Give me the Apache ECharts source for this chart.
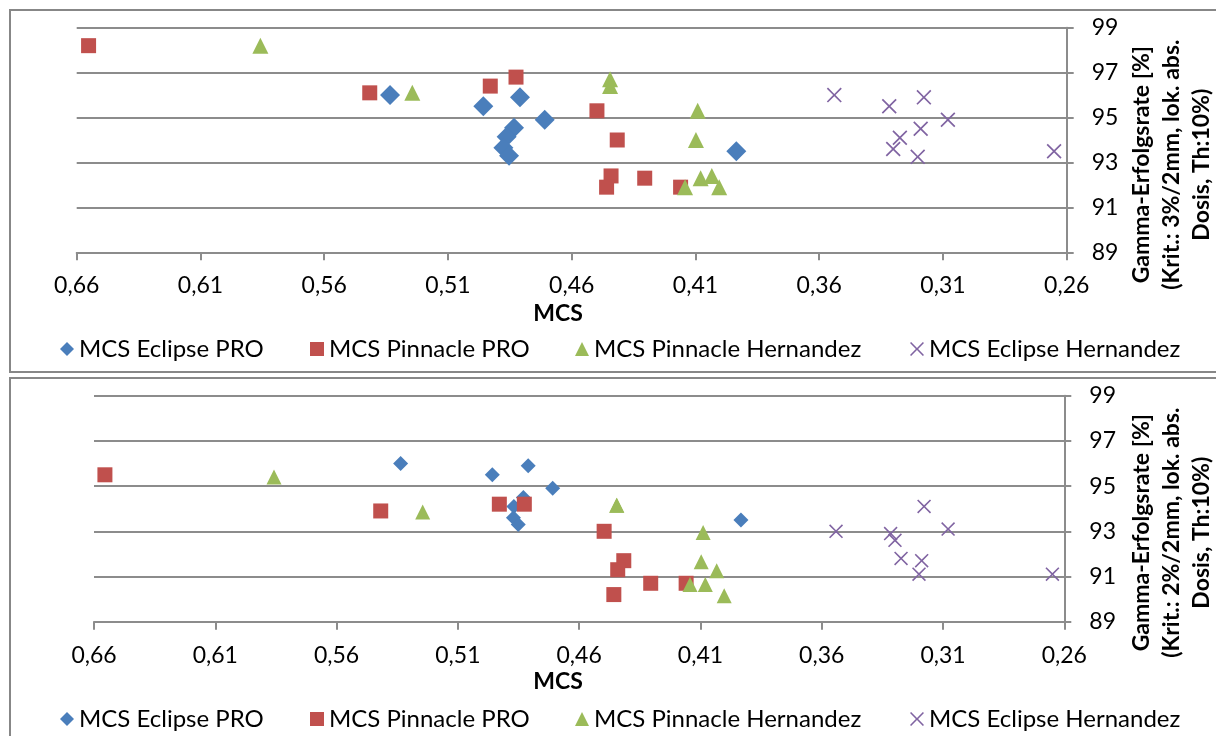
<!DOCTYPE html>
<html>
<head>
<meta charset="utf-8">
<script src="https://cdn.jsdelivr.net/npm/echarts@6/dist/echarts.min.js"></script>
<style>
  html, body { margin: 0; padding: 0; background: #fff; }
  #chart { width: 1216px; height: 736px; }
</style>
</head>
<body>
<div id="chart"></div>
<script>
// Series names, shared by both panels
const seriesNames = ['MCS Eclipse PRO', 'MCS Pinnacle PRO', 'MCS Pinnacle Hernandez', 'MCS Eclipse Hernandez'];

// Panel 1: gamma criterion 3%/2mm — [MCS, pass rate %]
const eclipsePro3 = [[0.5334, 96.0], [0.4957, 95.5], [0.4809, 95.9], [0.4709, 94.9], [0.4833, 94.55], [0.4863, 94.15], [0.4876, 93.65], [0.4853, 93.3], [0.3935, 93.5]];
const pinnaclePro3 = [[0.6552, 98.2], [0.5416, 96.1], [0.4929, 96.4], [0.4825, 96.8], [0.4498, 95.3], [0.4416, 94.0], [0.4441, 92.4], [0.4459, 91.9], [0.4305, 92.3], [0.4160, 91.9]];
const pinnacleHern3 = [[0.5858, 98.2], [0.5244, 96.1], [0.4445, 96.7], [0.4445, 96.4], [0.4091, 95.3], [0.4098, 94.0], [0.4079, 92.3], [0.4034, 92.4], [0.4142, 91.9], [0.4004, 91.9]];
const eclipseHern3 = [[0.3539, 96.0], [0.3317, 95.5], [0.3177, 95.9], [0.3080, 94.9], [0.3190, 94.5], [0.3274, 94.1], [0.3301, 93.6], [0.3202, 93.25], [0.2651, 93.5]];

// Panel 2: gamma criterion 2%/2mm — [MCS, pass rate %]
const eclipsePro2 = [[0.5336, 96.0], [0.4958, 95.5], [0.4810, 95.9], [0.4709, 94.9], [0.4830, 94.5], [0.4869, 94.1], [0.4871, 93.6], [0.4851, 93.3], [0.3933, 93.5]];
const pinnaclePro2 = [[0.6555, 95.5], [0.5418, 93.9], [0.4929, 94.2], [0.4826, 94.2], [0.4497, 93.0], [0.4416, 91.7], [0.4441, 91.3], [0.4457, 90.2], [0.4305, 90.7], [0.4159, 90.7]];
const pinnacleHern2 = [[0.5858, 95.4], [0.5245, 93.85], [0.4445, 94.15], [0.4445, 94.15], [0.4089, 92.95], [0.4097, 91.65], [0.4033, 91.25], [0.4143, 90.65], [0.4080, 90.65], [0.4002, 90.15]];
const eclipseHern2 = [[0.3541, 93.0], [0.3316, 92.9], [0.3298, 92.6], [0.3178, 94.1], [0.3079, 93.1], [0.3273, 91.8], [0.3188, 91.7], [0.3199, 91.1], [0.2649, 91.1]];

// Axis ranges and tick steps
const mcsRange = [0.26, 0.66];
const mcsStep = 0.05;
const gammaRange = [89, 99];
const gammaStep = 2;

// Axis titles
const xTitle = 'MCS';
const yTitles = [
  'Gamma-Erfolgsrate [%]\n(Krit.: 3%/2mm, lok. abs.\nDosis, Th:10%)',
  'Gamma-Erfolgsrate [%]\n(Krit.: 2%/2mm, lok. abs.\nDosis, Th:10%)'
];

const colors = ['#4A7EBB', '#C0504D', '#9BBB59', '#8064A2'];
const crossPath = 'path://M0,8L8,0L50,42L92,0L100,8L58,50L100,92L92,100L50,58L8,100L0,92L42,50Z';
const symbols = ['diamond', 'rect', 'triangle', crossPath];
const FONT = 'Lato, "Open Sans", sans-serif';
const AXIS_GRAY = '#8c8c8c';

const panels = [
  { grid: { left: 76.7, top: 27.7, width: 990, height: 224.6 }, data: [eclipsePro3, pinnaclePro3, pinnacleHern3, eclipseHern3], sizes: [20, 15, 16, 15], legendTop: 337, box: 10, boxH: 362 },
  { grid: { left: 94, top: 395.7, width: 970.3, height: 226 }, data: [eclipsePro2, pinnaclePro2, pinnacleHern2, eclipseHern2], sizes: [15, 15, 15, 14], legendTop: 707, box: 378, boxH: 380 }
];

const legendLefts = [60, 310, 575, 910];
const fmtMcs = v => v.toFixed(2).replace('.', ',');

const option = {
  animation: false,
  backgroundColor: '#fff',
  grid: panels.map(p => Object.assign({ containLabel: false }, p.grid)),
  xAxis: panels.map((p, i) => ({
    type: 'value', gridIndex: i, inverse: true,
    min: mcsRange[0], max: mcsRange[1], interval: mcsStep,
    axisLine: { show: true, onZero: false, lineStyle: { color: AXIS_GRAY, width: 2 } },
    axisTick: { show: true, length: 8, lineStyle: { color: AXIS_GRAY, width: 2 } },
    axisLabel: { formatter: fmtMcs, fontFamily: FONT, fontSize: 23, color: '#000', margin: 22 },
    splitLine: { show: false }
  })),
  yAxis: panels.map((p, i) => ({
    type: 'value', gridIndex: i, position: 'right',
    min: gammaRange[0], max: gammaRange[1], interval: gammaStep,
    axisLine: { show: true, onZero: false, lineStyle: { color: AXIS_GRAY, width: 2 } },
    axisTick: { show: true, length: 7, lineStyle: { color: AXIS_GRAY, width: 2 } },
    axisLabel: { fontFamily: FONT, fontSize: 23, color: '#000', margin: 25 },
    splitLine: { show: true, lineStyle: { color: AXIS_GRAY, width: 2 } }
  })),
  legend: [],
  series: [],
  graphic: []
};

panels.forEach((p, pi) => {
  seriesNames.forEach((name, si) => {
    option.series.push({
      type: 'scatter', name: name,
      xAxisIndex: pi, yAxisIndex: pi,
      symbol: symbols[si], symbolSize: p.sizes[si],
      itemStyle: { color: colors[si], opacity: 1 },
      data: p.data[si]
    });
    option.legend.push({
      data: [name], left: legendLefts[si], top: p.legendTop,
      itemWidth: 14, itemHeight: 14, padding: 0, selectedMode: false,
      textStyle: { fontFamily: FONT, fontSize: 24, color: '#000' }
    });
  });
  // panel frame
  option.graphic.push({
    type: 'rect', shape: { x: 10, y: p.box, width: 1230, height: p.boxH },
    style: { fill: 'none', stroke: '#878787', lineWidth: 2 }, silent: true
  });
  // x axis title
  option.graphic.push({
    type: 'text', x: 558, y: p.grid.top + 286, silent: true,
    style: { text: xTitle, font: 'bold 23px ' + FONT, fill: '#000', textAlign: 'center', textVerticalAlign: 'middle' }
  });
  // y axis title (rotated, three lines)
  option.graphic.push({
    type: 'text', x: 1172, y: p.grid.top + 137, rotation: Math.PI / 2, silent: true,
    style: { text: yTitles[pi], font: 'bold 23px ' + FONT, lineHeight: 30, fill: '#000', textAlign: 'center', textVerticalAlign: 'middle' }
  });
});

const chart = echarts.init(document.getElementById('chart'), null, { renderer: 'canvas' });
chart.setOption(option);
</script>
</body>
</html>
